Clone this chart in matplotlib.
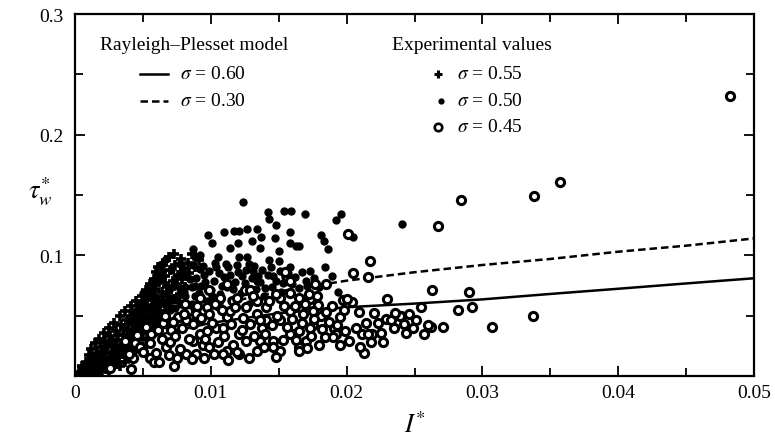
import matplotlib
matplotlib.use('Agg')
import matplotlib.pyplot as plt
from matplotlib.lines import Line2D
from matplotlib.ticker import MultipleLocator, FixedLocator, FixedFormatter

plt.rcParams['font.family'] = ['Liberation Serif', 'DejaVu Serif']
plt.rcParams['mathtext.fontset'] = 'stix'

# ---------------- data ----------------
# Rayleigh-Plesset model curves
I_model = [0.0, 0.002, 0.005, 0.01, 0.015, 0.02, 0.025, 0.03, 0.035, 0.04, 0.045, 0.05]
tau_060 = [0.0, 0.017, 0.031, 0.044, 0.052, 0.057, 0.060, 0.0635, 0.068, 0.0723, 0.0767, 0.081]
tau_030 = [0.0, 0.021, 0.040, 0.058, 0.070, 0.079, 0.086, 0.092, 0.097, 0.103, 0.108, 0.114]

# Experimental, sigma = 0.55 (plus)
I_055 = [0.0003, 0.0005, 0.0006, 0.0008, 0.0009, 0.0010, 0.0011, 0.0012, 0.0013, 0.0014,
         0.0015, 0.0016, 0.0017, 0.0018, 0.0019, 0.0020, 0.0021, 0.0022, 0.0023, 0.0024,
         0.0025, 0.0026, 0.0027, 0.0028, 0.0029, 0.0030, 0.0031, 0.0032, 0.0033, 0.0034,
         0.0035, 0.0036, 0.0037, 0.0038, 0.0039, 0.0040, 0.0041, 0.0042, 0.0043, 0.0044,
         0.0045, 0.0046, 0.0047, 0.0048, 0.0049, 0.0050, 0.0051, 0.0052, 0.0053, 0.0054,
         0.0055, 0.0056, 0.0057, 0.0058, 0.0059, 0.0060, 0.0061, 0.0062, 0.0063, 0.0064,
         0.0066, 0.0067, 0.0068, 0.0070, 0.0072, 0.0074, 0.0076, 0.0078, 0.0080, 0.0083,
         0.0086, 0.0020, 0.0026, 0.0032, 0.0038, 0.0044, 0.0050, 0.0012, 0.0017, 0.0008,
         0.0007, 0.0010, 0.0013, 0.0016, 0.0019, 0.0022, 0.0025, 0.0028, 0.0030, 0.0033,
         0.0035, 0.0037, 0.0040, 0.0041, 0.0043, 0.0046, 0.0048, 0.0050, 0.0052, 0.0053,
         0.0055, 0.0056, 0.0058, 0.0060, 0.0061, 0.0063, 0.0065, 0.0066, 0.0068, 0.0069,
         0.0071, 0.0073, 0.0075, 0.0077, 0.0079, 0.0081, 0.0084, 0.0088, 0.0091, 0.0069,
         0.0073, 0.0065, 0.0061,
         0.0004, 0.0006, 0.0009, 0.0012, 0.0014, 0.0015, 0.0017, 0.0018, 0.0020, 0.0021,
         0.0023, 0.0024, 0.0026, 0.0027, 0.0029, 0.0031, 0.0032, 0.0034, 0.0036, 0.0038,
         0.0040, 0.0042, 0.0044, 0.0045, 0.0047, 0.0049, 0.0051, 0.0054, 0.0057, 0.0059,
         0.0062, 0.0064, 0.0066]
T_055 = [0.003, 0.008, 0.004, 0.012, 0.006, 0.017, 0.010, 0.022, 0.014, 0.007,
         0.027, 0.019, 0.011, 0.031, 0.024, 0.015, 0.036, 0.028, 0.020, 0.012,
         0.040, 0.033, 0.025, 0.017, 0.044, 0.037, 0.030, 0.022, 0.050, 0.042,
         0.034, 0.026, 0.054, 0.046, 0.038, 0.030, 0.058, 0.050, 0.043, 0.034,
         0.062, 0.055, 0.047, 0.039, 0.066, 0.058, 0.050, 0.071, 0.063, 0.054,
         0.076, 0.067, 0.059, 0.080, 0.072, 0.086, 0.064, 0.078, 0.091, 0.070,
         0.083, 0.096, 0.074, 0.088, 0.079, 0.092, 0.084, 0.097, 0.089, 0.094,
         0.101, 0.005, 0.008, 0.012, 0.016, 0.020, 0.024, 0.003, 0.004, 0.002,
         0.001, 0.004, 0.002, 0.006, 0.009, 0.007, 0.004, 0.010, 0.014, 0.008,
         0.018, 0.012, 0.022, 0.016, 0.026, 0.030, 0.024, 0.036, 0.042, 0.030,
         0.046, 0.038, 0.052, 0.044, 0.058, 0.050, 0.062, 0.054, 0.066, 0.058,
         0.072, 0.064, 0.076, 0.068, 0.080, 0.074, 0.085, 0.090, 0.096, 0.099,
         0.101, 0.092, 0.090,
         0.001, 0.002, 0.002, 0.006, 0.012, 0.003, 0.016, 0.005, 0.020, 0.011,
         0.006, 0.026, 0.014, 0.030, 0.019, 0.010, 0.034, 0.024, 0.040, 0.030,
         0.044, 0.036, 0.048, 0.040, 0.052, 0.044, 0.060, 0.068, 0.074, 0.065,
         0.082, 0.087, 0.077]

# Experimental, sigma = 0.50 (filled dot)
I_050 = [0.0124, 0.0142, 0.0154, 0.0159, 0.0169, 0.0143, 0.0148, 0.0098, 0.0110, 0.0117,
         0.0121, 0.0127, 0.0134, 0.0101, 0.0114, 0.0120, 0.0130, 0.0137, 0.0136, 0.0147,
         0.0158, 0.0158, 0.0163, 0.0150, 0.0087, 0.0092, 0.0105, 0.0121, 0.0127, 0.0143,
         0.0150, 0.0104, 0.0113, 0.0128, 0.0131, 0.0135, 0.0158, 0.0173, 0.0092,
         0.0192, 0.0196, 0.0181, 0.0183, 0.0186, 0.0165, 0.0241, 0.0205,
         0.0088, 0.0077, 0.0078, 0.0067, 0.0063, 0.0081, 0.0088, 0.0055, 0.0050,
         0.0060, 0.0065, 0.0070, 0.0072, 0.0075, 0.0078, 0.0080, 0.0083, 0.0085, 0.0088,
         0.0090, 0.0093, 0.0095, 0.0097, 0.0100, 0.0102, 0.0105, 0.0107, 0.0110, 0.0112,
         0.0115, 0.0118, 0.0120, 0.0122, 0.0125, 0.0128, 0.0130, 0.0133, 0.0136, 0.0139,
         0.0142, 0.0145, 0.0148, 0.0152, 0.0155, 0.0160, 0.0165, 0.0170, 0.0045, 0.0050,
         0.0055, 0.0058, 0.0062, 0.0068, 0.0040, 0.0035, 0.0030, 0.0025, 0.0028, 0.0033,
         0.0042, 0.0047, 0.0052, 0.0057, 0.0059, 0.0061, 0.0064, 0.0066, 0.0069, 0.0071,
         0.0073, 0.0074, 0.0077, 0.0079, 0.0081, 0.0082, 0.0086, 0.0087, 0.0089, 0.0091,
         0.0094, 0.0096, 0.0099, 0.0101, 0.0103, 0.0106, 0.0108, 0.0111, 0.0114, 0.0116,
         0.0119, 0.0123, 0.0126, 0.0129, 0.0132, 0.0134, 0.0138, 0.0140, 0.0144, 0.0146,
         0.0151, 0.0153, 0.0157, 0.0162, 0.0167, 0.0171, 0.0176, 0.0180, 0.0184, 0.0189,
         0.0194,
         0.0048, 0.0052, 0.0056, 0.0060, 0.0063, 0.0067, 0.0070, 0.0074, 0.0078, 0.0082,
         0.0086, 0.0044, 0.0039, 0.0034]
T_050 = [0.144, 0.136, 0.137, 0.137, 0.134, 0.130, 0.125, 0.117, 0.119, 0.120,
         0.120, 0.122, 0.122, 0.110, 0.106, 0.110, 0.112, 0.115, 0.106, 0.114,
         0.119, 0.110, 0.108, 0.104, 0.105, 0.100, 0.099, 0.099, 0.099, 0.096,
         0.095, 0.090, 0.090, 0.093, 0.087, 0.083, 0.090, 0.087, 0.089,
         0.129, 0.134, 0.117, 0.112, 0.105, 0.108, 0.126, 0.115,
         0.099, 0.093, 0.085, 0.097, 0.087, 0.074, 0.075, 0.072, 0.069,
         0.060, 0.068, 0.055, 0.075, 0.063, 0.048, 0.070, 0.058, 0.080, 0.066,
         0.052, 0.075, 0.084, 0.062, 0.071, 0.079, 0.057, 0.068, 0.082, 0.074,
         0.063, 0.078, 0.086, 0.069, 0.077, 0.060, 0.081, 0.072, 0.078, 0.066,
         0.084, 0.074, 0.079, 0.070, 0.082, 0.076, 0.073, 0.079, 0.045, 0.055,
         0.050, 0.040, 0.046, 0.042, 0.035, 0.028, 0.021, 0.014, 0.026, 0.018,
         0.052, 0.060, 0.065, 0.070, 0.078, 0.055, 0.082, 0.060, 0.071, 0.088,
         0.065, 0.081, 0.072, 0.087, 0.066, 0.083, 0.074, 0.092, 0.081, 0.069,
         0.091, 0.078, 0.087, 0.066, 0.094, 0.085, 0.075, 0.093, 0.084, 0.072,
         0.092, 0.083, 0.088, 0.070, 0.091, 0.079, 0.088, 0.073, 0.090, 0.083,
         0.087, 0.077, 0.085, 0.082, 0.086, 0.075, 0.081, 0.074, 0.090, 0.083,
         0.070,
         0.038, 0.046, 0.057, 0.050, 0.062, 0.048, 0.063, 0.056, 0.060, 0.052,
         0.060, 0.030, 0.024, 0.020]

# Experimental, sigma = 0.45 (open circle)
I_045 = [0.0482, 0.0357, 0.0284, 0.0267, 0.0338, 0.0263, 0.0290, 0.0282, 0.0292, 0.0262,
         0.0271, 0.0307, 0.0337, 0.0217, 0.0205, 0.0216, 0.0201, 0.0177, 0.0185, 0.0230,
         0.0213, 0.0204, 0.0197, 0.0179, 0.0189, 0.0173, 0.0255, 0.0246, 0.0240, 0.0229,
         0.0251, 0.0260, 0.0195, 0.0181, 0.0191, 0.0175, 0.0223, 0.0235, 0.0244, 0.0211,
         0.0219, 0.0202, 0.0180, 0.0192, 0.0184, 0.0165, 0.0200, 0.0214, 0.0239, 0.0216,
         0.0218, 0.0190, 0.0170,
         0.0037, 0.0044, 0.0056, 0.0065, 0.0071, 0.0076, 0.0083, 0.0082, 0.0089, 0.0092,
         0.0097, 0.0104, 0.0112, 0.0116, 0.0125, 0.0126, 0.0134, 0.0138, 0.0136, 0.0146,
         0.0151, 0.0158, 0.0156, 0.0161, 0.0165, 0.0112, 0.0102, 0.0121, 0.0151, 0.0094,
         0.0082, 0.0075, 0.0055, 0.0067,
         0.0092, 0.0099, 0.0107, 0.0112, 0.0119, 0.0129, 0.0134, 0.0141, 0.0148, 0.0172,
         0.0168, 0.0158, 0.0151, 0.0158, 0.0173, 0.0165, 0.0146, 0.0134, 0.0126, 0.0116,
         0.0109, 0.0099, 0.0089, 0.0087, 0.0097, 0.0109, 0.0121, 0.0141, 0.0114, 0.0099,
         0.0089, 0.0043, 0.0058, 0.0070, 0.0080, 0.0048, 0.0026, 0.0041, 0.0073, 0.0062,
         0.0155, 0.0158, 0.0175, 0.0165,
         0.0040, 0.0046, 0.0050, 0.0052, 0.0055, 0.0060, 0.0061, 0.0064, 0.0066, 0.0069,
         0.0072, 0.0074, 0.0077, 0.0079, 0.0081, 0.0084, 0.0086, 0.0087, 0.0090, 0.0093,
         0.0095, 0.0096, 0.0101, 0.0103, 0.0105, 0.0108, 0.0110, 0.0113, 0.0115, 0.0118,
         0.0119, 0.0123, 0.0124, 0.0128, 0.0129, 0.0131, 0.0132, 0.0136, 0.0139, 0.0140,
         0.0143, 0.0145, 0.0148, 0.0149, 0.0153, 0.0154, 0.0156, 0.0160, 0.0162, 0.0163,
         0.0167, 0.0169, 0.0171, 0.0174, 0.0176, 0.0178, 0.0182, 0.0185, 0.0187, 0.0193,
         0.0195, 0.0198, 0.0199, 0.0207, 0.0209, 0.0210, 0.0220, 0.0225, 0.0227, 0.0233,
         0.0236, 0.0242, 0.0249, 0.0257]
T_045 = [0.232, 0.161, 0.146, 0.124, 0.149, 0.071, 0.070, 0.055, 0.057, 0.041,
         0.041, 0.041, 0.050, 0.095, 0.085, 0.082, 0.118, 0.076, 0.076, 0.064,
         0.019, 0.061, 0.063, 0.059, 0.058, 0.064, 0.057, 0.051, 0.050, 0.047,
         0.046, 0.042, 0.049, 0.050, 0.040, 0.042, 0.044, 0.040, 0.036, 0.035,
         0.035, 0.029, 0.026, 0.035, 0.032, 0.065, 0.064, 0.044, 0.050, 0.035,
         0.028, 0.032, 0.029,
         0.029, 0.027, 0.035, 0.044, 0.038, 0.049, 0.054, 0.046, 0.046, 0.035,
         0.057, 0.040, 0.049, 0.062, 0.071, 0.057, 0.051, 0.040, 0.029, 0.029,
         0.065, 0.069, 0.082, 0.035, 0.024, 0.021, 0.018, 0.018, 0.021, 0.026,
         0.018, 0.015, 0.015, 0.024,
         0.065, 0.071, 0.065, 0.076, 0.065, 0.071, 0.062, 0.057, 0.068, 0.068,
         0.051, 0.054, 0.046, 0.035, 0.040, 0.021, 0.024, 0.021, 0.029, 0.026,
         0.018, 0.024, 0.018, 0.029, 0.037, 0.040, 0.035, 0.046, 0.054, 0.051,
         0.051, 0.015, 0.012, 0.028, 0.051, 0.024, 0.007, 0.006, 0.008, 0.012,
         0.086, 0.079, 0.054, 0.037,
         0.018, 0.034, 0.020, 0.041, 0.027, 0.019, 0.038, 0.031, 0.050, 0.017,
         0.045, 0.033, 0.022, 0.040, 0.060, 0.031, 0.014, 0.043, 0.058, 0.048,
         0.015, 0.031, 0.044, 0.060, 0.028, 0.055, 0.033, 0.013, 0.043, 0.057,
         0.020, 0.038, 0.048, 0.015, 0.043, 0.066, 0.033, 0.046, 0.024, 0.035,
         0.062, 0.042, 0.016, 0.050, 0.030, 0.058, 0.041, 0.047, 0.058, 0.030,
         0.044, 0.060, 0.023, 0.033, 0.047, 0.066, 0.039, 0.053, 0.045, 0.042,
         0.026, 0.055, 0.037, 0.040, 0.053, 0.024, 0.052, 0.036, 0.028, 0.046,
         0.052, 0.043, 0.040, 0.035]

x_ticks = [0.0, 0.01, 0.02, 0.03, 0.04, 0.05]
x_tick_labels = ['0', '0.01', '0.02', '0.03', '0.04', '0.05']
y_ticks = [0.1, 0.2, 0.3]
y_tick_labels = ['0.1', '0.2', '0.3']

# ---------------- figure ----------------
W, H = 775, 439
fig = plt.figure(figsize=(W / 100, H / 100), dpi=100)


def fx(px):
    return px / W


def fy(py):
    return 1 - py / H


ax = fig.add_axes([fx(75), fy(377), (754 - 75) / W, (377 - 15) / H])
ax.set_xlim(0, 0.05)
ax.set_ylim(0, 0.3)

ax.plot(I_model, tau_060, color='black', lw=1.8, zorder=2)
ax.plot(I_model, tau_030, color='black', lw=1.8, dashes=(3, 1.6), zorder=2)

ax.plot(I_055, T_055, linestyle='none', marker='+', ms=7.5, mew=2.6, color='black', zorder=3)
ax.plot(I_050, T_050, linestyle='none', marker='o', ms=6.0, mew=0, color='black', zorder=3)
ax.plot(I_045, T_045, linestyle='none', marker='o', ms=5.9, mew=2.2,
        markerfacecolor='white', markeredgecolor='black', zorder=4)

ax.xaxis.set_major_locator(FixedLocator(x_ticks))
ax.xaxis.set_major_formatter(FixedFormatter(x_tick_labels))
ax.xaxis.set_minor_locator(MultipleLocator(0.005))
ax.yaxis.set_major_locator(FixedLocator(y_ticks))
ax.yaxis.set_major_formatter(FixedFormatter(y_tick_labels))
ax.yaxis.set_minor_locator(MultipleLocator(0.05))

ax.tick_params(which='both', direction='in', top=True, right=True, width=1.3,
               labelsize=14, colors='black')
ax.tick_params(which='major', length=7)
ax.tick_params(which='minor', length=6)
ax.tick_params(axis='x', pad=6)
ax.tick_params(axis='y', pad=8)
for s in ax.spines.values():
    s.set_linewidth(1.6)

fig.text(fx(415), fy(425), r'$I^{*}$', fontsize=19, ha='center', va='center')
fig.text(fx(40), fy(192), r'$\tau_{w}^{*}$', fontsize=19, ha='center', va='center')

# legend block (drawn as figure artists)
fs = 14
fig.text(fx(100), fy(46), 'Rayleigh\u2013Plesset model', fontsize=fs, ha='left', va='center')
fig.text(fx(392), fy(46), 'Experimental values', fontsize=fs, ha='left', va='center')

fig.add_artist(Line2D([fx(140), fx(168)], [fy(75), fy(75)], color='black', lw=1.8))
fig.add_artist(Line2D([fx(140), fx(168)], [fy(102), fy(102)], color='black', lw=1.8,
                      dashes=(3, 1.6)))
fig.text(fx(180), fy(75), r'$\sigma$ = 0.60', fontsize=fs, ha='left', va='center')
fig.text(fx(180), fy(102), r'$\sigma$ = 0.30', fontsize=fs, ha='left', va='center')

fig.add_artist(Line2D([fx(438)], [fy(75)], linestyle='none', marker='+', ms=6, mew=2.2,
                      color='black'))
fig.add_artist(Line2D([fx(441)], [fy(102)], linestyle='none', marker='o', ms=4.5, mew=0,
                      color='black'))
fig.add_artist(Line2D([fx(438)], [fy(128)], linestyle='none', marker='o', ms=5.4, mew=1.9,
                      markerfacecolor='white', markeredgecolor='black'))
fig.text(fx(457), fy(75), r'$\sigma$ = 0.55', fontsize=fs, ha='left', va='center')
fig.text(fx(457), fy(102), r'$\sigma$ = 0.50', fontsize=fs, ha='left', va='center')
fig.text(fx(457), fy(128), r'$\sigma$ = 0.45', fontsize=fs, ha='left', va='center')

fig.savefig('out.png', dpi=100)
